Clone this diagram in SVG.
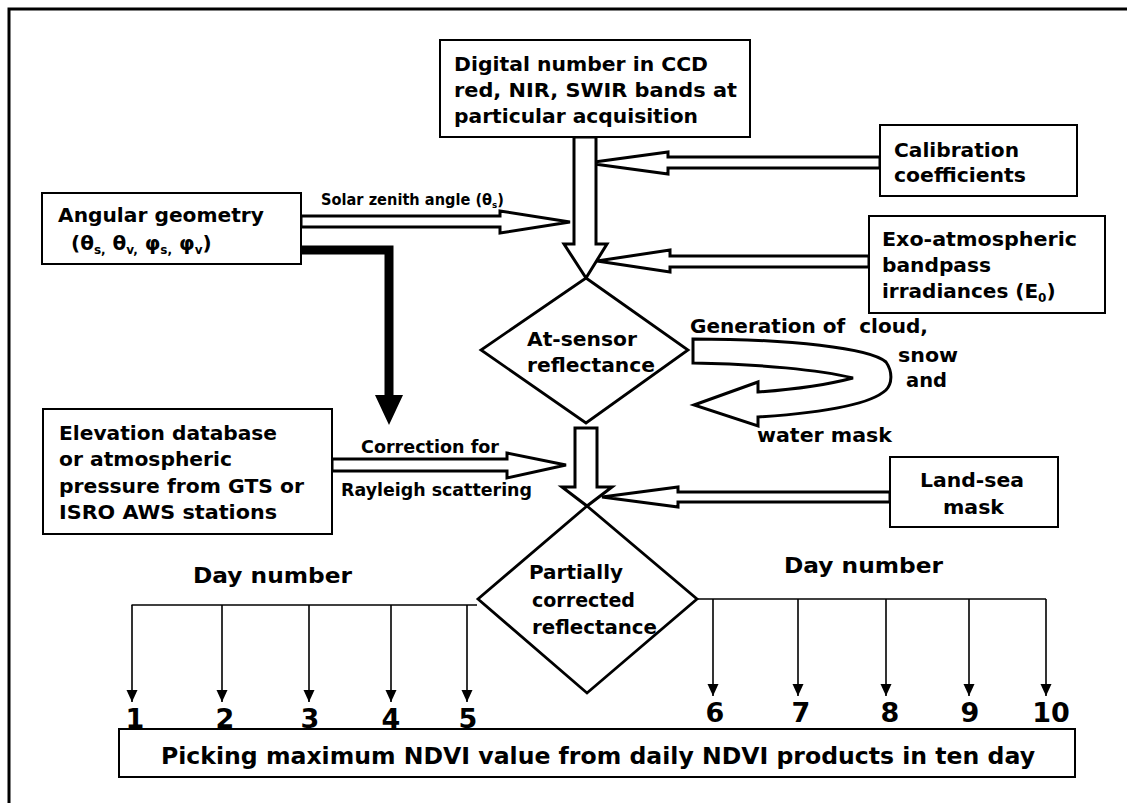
<svg xmlns="http://www.w3.org/2000/svg" width="1127" height="803" viewBox="0 0 1127 803">
<defs>
<style>
text{font-family:"DejaVu Sans","Verdana","Liberation Sans",sans-serif;font-weight:bold;fill:#000;white-space:pre}
.t20{font-size:20px}
.t17{font-size:17.5px}
.t12{font-size:15px}
.day{font-size:22px}
.num{font-size:27px;text-anchor:middle}
.box{fill:#fff;stroke:#000;stroke-width:2}
.dia{fill:#fff;stroke:#000;stroke-width:2.8}
.hollow{fill:#fff;stroke:#000;stroke-width:3;stroke-linejoin:miter}
.thin{fill:none;stroke:#000;stroke-width:1.6}
</style>
<marker id="ah" viewBox="0 -6 13 12" refX="12" refY="0" markerWidth="13" markerHeight="12" markerUnits="userSpaceOnUse" orient="auto">
<path d="M0,-5.5 L12,0 L0,5.5 z" fill="#000"/>
</marker>
</defs>
<rect x="0" y="0" width="1127" height="803" fill="#fff"/>
<rect x="9" y="9" width="1300" height="1000" fill="none" stroke="#000" stroke-width="3"/>

<g id="connectors">
<polygon class="hollow" points="880,157 668,157 668,152 587,163 668,174 668,168 880,168"/>
<polygon class="hollow" points="869,256 670,256 670,250 597,261 670,272 670,267 869,267"/>
<polygon class="hollow" points="574,137 596,137 596,244 607,244 586,278 564,244 574,244"/>
<polygon class="hollow" points="301,216 500,216 500,211 570,222 500,233 500,227 301,227"/>
<path d="M301,250 L389,250 L389,397" fill="none" stroke="#000" stroke-width="9"/>
<polygon points="375,395 403,395 389,425" fill="#000"/>
<path class="hollow" stroke-width="2.6" d="M693,339 C790,339 870,348 886,362 C893,372 892,384 886,390 C870,405 820,413 758,417 L758,426 L694,405 L758,382 L758,392 C800,389 830,384 853,378 C820,370 760,364 693,363 Z"/>
<polygon class="hollow" points="332,459 507,459 507,453 566,465 507,478 507,471 332,471"/>
<polygon class="hollow" points="575,428 597,428 597,487 612,487 587,506 562,487 575,487"/>
<polygon class="hollow" points="890,492 678,492 678,487 602,497 678,507 678,502 890,502"/>
<path class="thin" d="M131.5,605 L477,605"/>
<path class="thin" d="M697,599 L1046,599"/>
<g class="thin">
<line x1="132" y1="605" x2="132" y2="702" marker-end="url(#ah)"/>
<line x1="222" y1="605" x2="222" y2="702" marker-end="url(#ah)"/>
<line x1="309" y1="605" x2="309" y2="702" marker-end="url(#ah)"/>
<line x1="391" y1="605" x2="391" y2="702" marker-end="url(#ah)"/>
<line x1="467" y1="605" x2="467" y2="702" marker-end="url(#ah)"/>
<line x1="713" y1="599" x2="713" y2="696" marker-end="url(#ah)"/>
<line x1="798" y1="599" x2="798" y2="696" marker-end="url(#ah)"/>
<line x1="886" y1="599" x2="886" y2="696" marker-end="url(#ah)"/>
<line x1="969" y1="599" x2="969" y2="696" marker-end="url(#ah)"/>
<line x1="1046" y1="599" x2="1046" y2="696" marker-end="url(#ah)"/>
</g>
<text class="t12" x="321" y="205" textLength="183" lengthAdjust="spacingAndGlyphs">Solar zenith angle (θ<tspan font-size="9" dy="3">s</tspan><tspan dy="-3">)</tspan></text>
<text class="t17" x="361" y="453" textLength="138" lengthAdjust="spacingAndGlyphs">Correction for</text>
<text class="t17" x="341" y="496" textLength="191" lengthAdjust="spacingAndGlyphs">Rayleigh scattering</text>
<text class="t20" x="690" y="333" textLength="238" lengthAdjust="spacingAndGlyphs">Generation of  cloud,</text>
<text class="t20" x="898" y="362" textLength="60" lengthAdjust="spacingAndGlyphs">snow</text>
<text class="t20" x="906" y="387" textLength="41" lengthAdjust="spacingAndGlyphs">and</text>
<text class="t20" x="757" y="442" textLength="135" lengthAdjust="spacingAndGlyphs">water mask</text>
<text class="day" x="193" y="583" textLength="159" lengthAdjust="spacingAndGlyphs">Day number</text>
<text class="day" x="784" y="573" textLength="159" lengthAdjust="spacingAndGlyphs">Day number</text>
<text class="num" x="135" y="728">1</text>
<text class="num" x="225" y="728">2</text>
<text class="num" x="310" y="728">3</text>
<text class="num" x="391" y="728">4</text>
<text class="num" x="468" y="728">5</text>
<text class="num" x="715" y="722">6</text>
<text class="num" x="801" y="722">7</text>
<text class="num" x="890" y="722">8</text>
<text class="num" x="970" y="722">9</text>
<text class="num" x="1051" y="722">10</text>
</g>

<g id="digital">
<rect class="box" x="440" y="40" width="310" height="97"/>
<text class="t20" x="454" y="71" textLength="254" lengthAdjust="spacingAndGlyphs">Digital number in CCD</text>
<text class="t20" x="454" y="97" textLength="283" lengthAdjust="spacingAndGlyphs">red, NIR, SWIR bands at</text>
<text class="t20" x="454" y="123" textLength="244" lengthAdjust="spacingAndGlyphs">particular acquisition</text>
</g>
<g id="calibration">
<rect class="box" x="880" y="125" width="197" height="71"/>
<text class="t20" x="894" y="157" textLength="125" lengthAdjust="spacingAndGlyphs">Calibration</text>
<text class="t20" x="894" y="182" textLength="132" lengthAdjust="spacingAndGlyphs">coefficients</text>
</g>
<g id="angular">
<rect class="box" x="42" y="193" width="259" height="71"/>
<text class="t20" x="58" y="222" textLength="206" lengthAdjust="spacingAndGlyphs">Angular geometry</text>
<text class="t20" x="71" y="250">(θ<tspan font-size="12" dy="4">s,</tspan><tspan dy="-4"> θ</tspan><tspan font-size="12" dy="4">v,</tspan><tspan dy="-4"> φ</tspan><tspan font-size="12" dy="4">s,</tspan><tspan dy="-4"> φ</tspan><tspan font-size="12" dy="4">v</tspan><tspan dy="-4">)</tspan></text>
</g>
<g id="exo">
<rect class="box" x="869" y="216" width="236" height="97"/>
<text class="t20" x="882" y="246" textLength="195" lengthAdjust="spacingAndGlyphs">Exo-atmospheric</text>
<text class="t20" x="882" y="272" textLength="109" lengthAdjust="spacingAndGlyphs">bandpass</text>
<text class="t20" x="882" y="298">irradiances (E<tspan font-size="12" dy="4">0</tspan><tspan dy="-4">)</tspan></text>
</g>
<g id="at-sensor">
<polygon class="dia" points="586,278 688,350 586,423 481,350"/>
<text class="t20" x="527" y="346" textLength="110" lengthAdjust="spacingAndGlyphs">At-sensor</text>
<text class="t20" x="527" y="372" textLength="128" lengthAdjust="spacingAndGlyphs">reflectance</text>
</g>
<g id="elevation">
<rect class="box" x="43" y="409" width="289" height="125"/>
<text class="t20" x="59" y="440" textLength="218" lengthAdjust="spacingAndGlyphs">Elevation database</text>
<text class="t20" x="59" y="466" textLength="173" lengthAdjust="spacingAndGlyphs">or atmospheric</text>
<text class="t20" x="59" y="493" textLength="245" lengthAdjust="spacingAndGlyphs">pressure from GTS or</text>
<text class="t20" x="59" y="519" textLength="218" lengthAdjust="spacingAndGlyphs">ISRO AWS stations</text>
</g>
<g id="landsea">
<rect class="box" x="890" y="457" width="168" height="70"/>
<text class="t20" x="920" y="487" textLength="104" lengthAdjust="spacingAndGlyphs">Land-sea</text>
<text class="t20" x="943" y="514" textLength="61" lengthAdjust="spacingAndGlyphs">mask</text>
</g>
<g id="partially">
<polygon class="dia" points="587,506 697,599 587,693 478,599"/>
<text class="t20" x="529" y="579" textLength="94" lengthAdjust="spacingAndGlyphs">Partially</text>
<text class="t20" x="532" y="607" textLength="103" lengthAdjust="spacingAndGlyphs">corrected</text>
<text class="t20" x="532" y="634" textLength="125" lengthAdjust="spacingAndGlyphs">reflectance</text>
</g>
<g id="ndvi">
<rect class="box" x="119" y="729" width="956" height="48"/>
<text x="161" y="764" font-size="23" textLength="874" lengthAdjust="spacingAndGlyphs">Picking maximum NDVI value from daily NDVI products in ten day</text>
</g>
</svg>
